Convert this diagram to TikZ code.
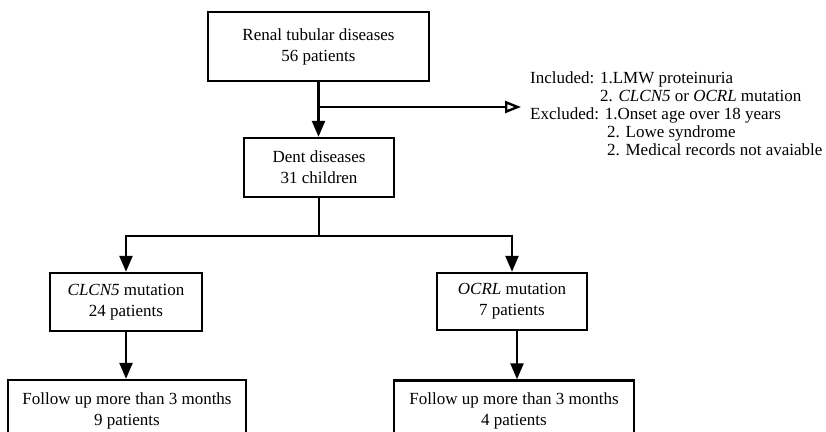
\documentclass[tikz,border=0pt]{standalone}
\usepackage{fontspec}
\setmainfont{Liberation Serif}
\usetikzlibrary{arrows.meta}
\tikzset{
  box/.style={draw=black, line width=2.4pt, fill=white, align=center, inner sep=0pt,
    font=\fontsize{17}{21}\selectfont},
  conn/.style={line width=2.4pt, draw=black},
  farrow/.style={conn, -{Triangle[length=16pt,width=13pt]}},
  oarrow/.style={conn, -{Triangle[open,length=16pt,width=12pt,fill=white]}},
}
\begin{document}
\begin{tikzpicture}[x=1pt,y=1pt]
\useasboundingbox (0,0) rectangle (826,-431);
\begin{scope}
\clip (0,0) rectangle (826,-431);
\node[box, minimum width=221pt, minimum height=69pt] (renal) at (318.5,-46.5)
  {Renal tubular diseases\\56 patients};
\node[box, minimum width=150pt, minimum height=59pt] (dent) at (319,-167.5)
  {Dent diseases\\31 children};
\node[box, minimum width=152pt, minimum height=58pt] (clcn) at (126,-302)
  {\textit{CLCN5} mutation\\24 patients};
\node[box, minimum width=150pt, minimum height=57pt] (ocrl) at (512,-301.5)
  {\textit{OCRL} mutation\\7 patients};
\node[box, minimum width=238pt, minimum height=61pt] (fl) at (127,-410.5)
  {Follow up more than 3 months\\9 patients};
\node[box, minimum width=240pt, minimum height=61pt] (fr) at (514,-411)
  {Follow up more than 3 months\\4 patients};
\node[anchor=north west, align=left, inner sep=0pt,
      font=\fontsize{17}{18}\selectfont] (crit) at (530,-72)
  {Included: 1.LMW proteinuria\\
   \hspace*{70pt}2. \textit{CLCN5} or \textit{OCRL} mutation\\
   Excluded: 1.Onset age over 18 years\\
   \hspace*{77pt}2. Lowe syndrome\\
   \hspace*{77pt}2. Medical records not avaiable};
\coordinate (branch) at (renal.south |- 0,-107);
\coordinate (tip) at (521,-107);
\draw[farrow] (renal.south) -- (renal.south |- dent.north);
\draw[oarrow] (branch) -- (tip);
\draw[conn] (dent.south) -- ++(0,-38) coordinate (split);
\draw[farrow] (split) -| (clcn.north);
\draw[farrow] (split) -| (ocrl.north);
\draw[farrow] (clcn.south) -- (clcn.south |- fl.north);
\draw[farrow] ([xshift=5pt]ocrl.south) -- ([xshift=5pt]ocrl.south |- fr.north);
\end{scope}
\end{tikzpicture}
\end{document}
